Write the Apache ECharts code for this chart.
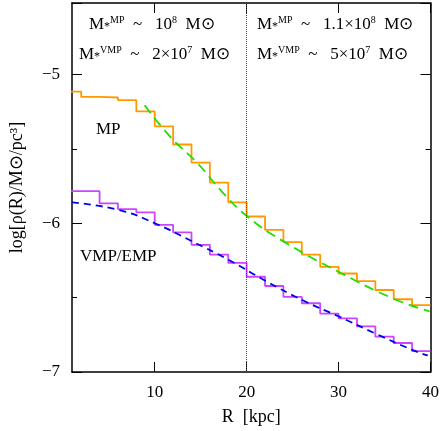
<!DOCTYPE html>
<html>
<head>
<meta charset="utf-8">
<script src="https://cdn.jsdelivr.net/npm/echarts@6/dist/echarts.min.js"></script>
<style>html,body{margin:0;padding:0;background:#fff}</style>
</head>
<body>
<div id="chart" style="width:442px;height:431px"></div>
<script>
// bin start radii (kpc), 2 kpc wide bins
var binStarts = [0, 2, 4, 6, 8, 10, 12, 14, 16, 18, 20, 22, 24, 26, 28, 30, 32, 34, 36, 38];
var mpValues = [-5.115, -5.151, -5.155, -5.173, -5.249, -5.349, -5.471, -5.593, -5.727, -5.86,
  -5.955, -6.045, -6.127, -6.211, -6.293, -6.338, -6.389, -6.449, -6.511, -6.551];
var vmpValues = [-5.785, -5.785, -5.867, -5.905, -5.927, -6.011, -6.062, -6.145, -6.211, -6.267,
  -6.36, -6.422, -6.495, -6.538, -6.607, -6.64, -6.693, -6.762, -6.805, -6.86];
// fitted profiles
var mpFitR = [8.9, 11.7, 14.7, 17.3, 20, 24, 30.2, 35.9, 39.9];
var mpFitV = [-5.207, -5.42, -5.6, -5.787, -5.951, -6.122, -6.333, -6.505, -6.593];
var vmpFitR = [1, 6.1, 10, 14, 18, 22.1, 26.1, 30.1, 34.1, 38, 39.7];
var vmpFitV = [-5.86, -5.911, -6.0, -6.12, -6.245, -6.389, -6.518, -6.629, -6.744, -6.851, -6.889];
var xTicks = [10, 20, 30, 40];

function steps(vals) {
  var d = binStarts.map(function (r, i) { return [r, vals[i]]; });
  d.push([40, vals[vals.length - 1]]);
  return d;
}
function pairs(xs, ys) { return xs.map(function (x, i) { return [x, ys[i]]; }); }

var font = 'Liberation Serif';
var rich = {
  n: { fontSize: 17, fontFamily: font, color: '#000' },
  sup: { fontSize: 10, fontFamily: font, color: '#000', padding: [0, 0, 9, 0] },
  sub: { fontSize: 12, fontFamily: font, color: '#000', padding: [4, 0, 0, 0] }
};
function label(x, y, txt) {
  return { type: 'text', left: x, top: y, style: { text: txt, rich: rich, fill: '#000' } };
}

var myChart = echarts.init(document.getElementById('chart'));
var axisCommon = {
  axisLine: { lineStyle: { color: '#000', width: 1.5 } },
  axisTick: { inside: true, length: 10, lineStyle: { color: '#000' } },
  minorTick: { show: true, splitNumber: 2, length: 5, lineStyle: { color: '#000' } },
  splitLine: { show: false }
};
var option = {
  animation: false,
  grid: { left: 70, right: 11, top: 3, bottom: 57 },
  xAxis: [
    Object.assign({}, axisCommon, { type: 'value', min: 1, max: 40,
      axisTick: { inside: true, length: 10, lineStyle: { color: '#000' }, customValues: xTicks },
      minorTick: { show: false },
      axisLabel: { fontFamily: font, fontSize: 17, color: '#000', margin: 12, customValues: xTicks },
      name: 'R  [kpc]', nameLocation: 'middle', nameGap: 36,
      nameTextStyle: { fontFamily: font, fontSize: 18, color: '#000' } }),
    Object.assign({}, axisCommon, { type: 'value', position: 'top', min: 1, max: 40,
      axisTick: { inside: true, length: 10, lineStyle: { color: '#000' }, customValues: xTicks },
      minorTick: { show: false },
      axisLabel: { show: false } })
  ],
  yAxis: [
    Object.assign({ type: 'value', min: -7, max: -4.52, interval: 1,
      axisLabel: { fontFamily: font, fontSize: 17, color: '#000', margin: 12,
        formatter: function (v) { return v === -4.52 ? '' : String(v).replace('-', '−'); } },
      name: 'log[ρ(R)/M⊙/pc³]', nameLocation: 'middle', nameGap: 46,
      nameTextStyle: { fontFamily: font, fontSize: 18, color: '#000' } }, axisCommon),
    Object.assign({ type: 'value', position: 'right', min: -7, max: -4.52, interval: 1,
      axisLabel: { show: false } }, axisCommon)
  ],
  series: [
    { type: 'line', step: 'end', data: steps(mpValues), symbol: 'none',
      lineStyle: { color: '#ff9900', width: 1.8 },
      markLine: { silent: true, symbol: 'none', label: { show: false },
        lineStyle: { color: '#444', type: 'dotted', width: 1 }, data: [{ xAxis: 20 }] } },
    { type: 'line', step: 'end', data: steps(vmpValues), symbol: 'none',
      lineStyle: { color: '#cc44ff', width: 1.8 } },
    { type: 'line', smooth: true, data: pairs(mpFitR, mpFitV), symbol: 'none',
      lineStyle: { color: '#22dd00', width: 1.8, type: [10, 6] } },
    { type: 'line', smooth: true, data: pairs(vmpFitR, vmpFitV), symbol: 'none',
      lineStyle: { color: '#0000ee', width: 1.8, type: [7, 5] } }
  ],
  graphic: [
    label(89, 15, '{n|M}{sub|*}{sup|MP}{n|  ~   10}{sup|8}{n|  M⊙}'),
    label(79, 45, '{n|M}{sub|*}{sup|VMP}{n|  ~   2×10}{sup|7}{n|  M⊙}'),
    label(257, 15, '{n|M}{sub|*}{sup|MP}{n|  ~   1.1×10}{sup|8}{n|  M⊙}'),
    label(257, 45, '{n|M}{sub|*}{sup|VMP}{n|  ~   5×10}{sup|7}{n|  M⊙}'),
    label(96, 121, '{n|MP}'),
    label(80, 248, '{n|VMP/EMP}')
  ]
};
myChart.setOption(option);
</script>
</body>
</html>
